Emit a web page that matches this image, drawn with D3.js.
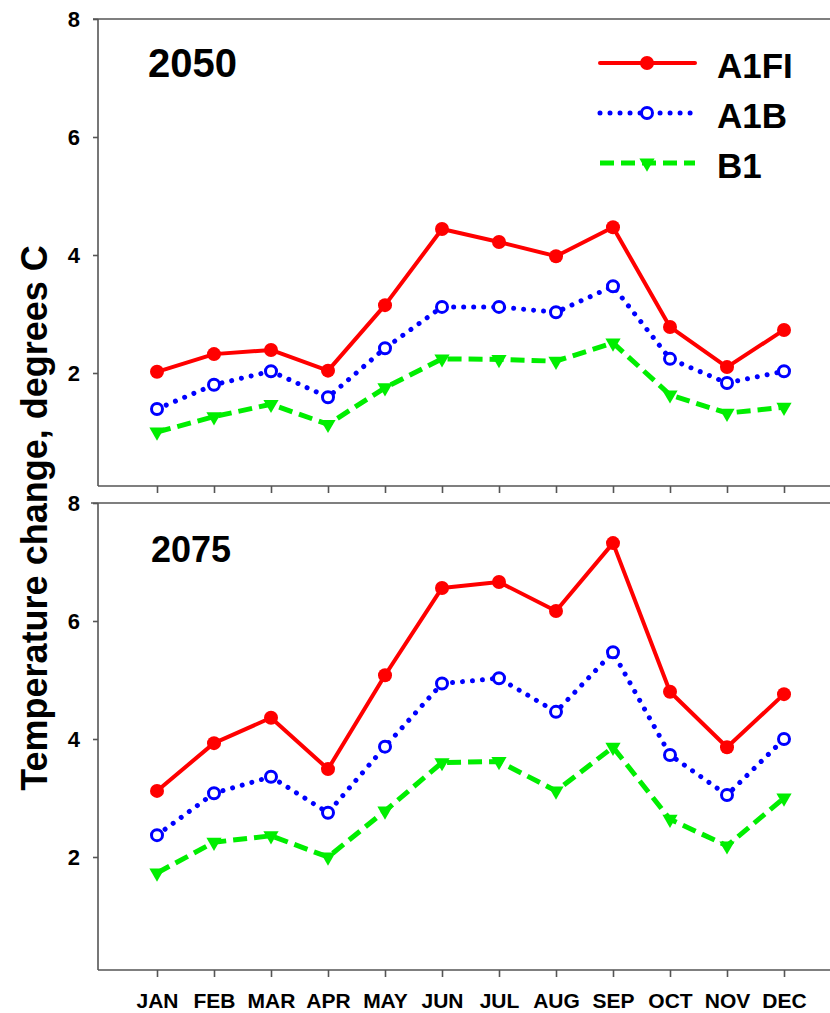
<!DOCTYPE html>
<html>
<head>
<meta charset="utf-8">
<script src="https://cdn.jsdelivr.net/npm/d3@7/dist/d3.min.js"></script>
<style>
  html, body { margin: 0; padding: 0; background: #fff; }
  svg { display: block; }
  text { font-family: "Liberation Sans", Arial, sans-serif; font-weight: bold; fill: #000; }
</style>
</head>
<body>
<svg id="chart" width="830" height="1013"></svg>
<script>
const months = ["JAN","FEB","MAR","APR","MAY","JUN","JUL","AUG","SEP","OCT","NOV","DEC"];
const yTicks = [2, 4, 6, 8];
const seriesNames = ["A1FI", "A1B", "B1"];

// 2050 panel
const a1fi2050 = [2.02, 2.32, 2.39, 2.04, 3.15, 4.44, 4.22, 3.98, 4.47, 2.78, 2.10, 2.73];
const a1b2050  = [1.39, 1.80, 2.03, 1.59, 2.42, 3.12, 3.12, 3.03, 3.47, 2.24, 1.83, 2.03];
const b12050   = [1.00, 1.26, 1.47, 1.13, 1.75, 2.24, 2.23, 2.20, 2.51, 1.63, 1.32, 1.42];

// 2075 panel
const a1fi2075 = [3.12, 3.93, 4.36, 3.49, 5.08, 6.56, 6.66, 6.17, 7.32, 4.80, 3.86, 4.76];
const a1b2075  = [2.37, 3.08, 3.36, 2.75, 3.87, 4.94, 5.03, 4.46, 5.47, 3.73, 3.05, 4.00];
const b12075   = [1.73, 2.25, 2.36, 2.00, 2.78, 3.60, 3.62, 3.12, 3.86, 2.64, 2.19, 3.00];

const svg = d3.select("#chart");
const W = 830;

const colors = { A1FI: "#ff0000", A1B: "#0000ff", B1: "#00ee00" };

const x = d3.scalePoint().domain(months).range([157, 784]);

const panels = [
  { label: "2050", labelSize: 40, labelX: 148, labelY: 77, top: 19, bottom: 486, yRange: [491, 19], leftStart: 93, showXLabels: false,
    data: { A1FI: a1fi2050, A1B: a1b2050, B1: b12050 } },
  { label: "2075", labelSize: 36, labelX: 151, labelY: 562, top: 503, bottom: 970, yRange: [975, 503], leftStart: 91, showXLabels: true,
    data: { A1FI: a1fi2075, A1B: a1b2075, B1: b12075 } }
];

const axisColor = "#555";
const axisX = 98;

function styleFor(name) {
  if (name === "A1FI") return { width: 4, dash: null, cap: "round" };
  if (name === "A1B") return { width: 5, dash: "0.01,10", cap: "round" };
  return { width: 5, dash: "14,7", cap: "butt" };
}

function drawMarker(g, name, cx, cy) {
  if (name === "A1FI") {
    g.append("circle").attr("cx", cx).attr("cy", cy).attr("r", 7).attr("fill", colors.A1FI);
  } else if (name === "A1B") {
    g.append("circle").attr("cx", cx).attr("cy", cy).attr("r", 5.5)
      .attr("fill", "#fff").attr("stroke", colors.A1B).attr("stroke-width", 3);
  } else {
    g.append("path").attr("d", d3.symbol().type(d3.symbolTriangle).size(100)())
      .attr("transform", `translate(${cx},${cy}) rotate(180)`).attr("fill", colors.B1);
  }
}

panels.forEach(p => {
  const y = d3.scaleLinear().domain([0, 8]).range(p.yRange);
  const g = svg.append("g");

  // frame lines
  g.append("line").attr("x1", p.leftStart).attr("x2", W + 10).attr("y1", p.top).attr("y2", p.top)
    .attr("stroke", axisColor).attr("stroke-width", 1.6);
  g.append("line").attr("x1", axisX).attr("x2", axisX).attr("y1", p.top).attr("y2", p.bottom)
    .attr("stroke", axisColor).attr("stroke-width", 1.6);
  g.append("line").attr("x1", axisX).attr("x2", W + 10).attr("y1", p.bottom).attr("y2", p.bottom)
    .attr("stroke", axisColor).attr("stroke-width", 1.6);

  // y axis ticks & labels
  const yAxis = d3.axisLeft(y).tickValues(yTicks).tickSize(5).tickPadding(13).tickFormat(d3.format("d"));
  const ya = g.append("g").attr("transform", `translate(${axisX},0)`).call(yAxis);
  ya.select(".domain").remove();
  ya.selectAll(".tick line").attr("stroke", axisColor).attr("stroke-width", 1.6);
  ya.selectAll(".tick text").style("font-size", "22px").style("font-weight", "bold")
    .style("font-family", '"Liberation Sans", Arial, sans-serif').attr("fill", "#000");

  // x axis ticks
  const xAxis = d3.axisBottom(x).tickSize(7).tickPadding(16);
  if (!p.showXLabels) xAxis.tickFormat(() => "");
  const xa = g.append("g").attr("transform", `translate(0,${p.bottom})`).call(xAxis);
  xa.select(".domain").remove();
  xa.selectAll(".tick line").attr("stroke", axisColor).attr("stroke-width", 1.6);
  xa.selectAll(".tick text").style("font-size", "21px").style("font-weight", "bold")
    .style("font-family", '"Liberation Sans", Arial, sans-serif').attr("fill", "#000");

  // panel label
  g.append("text").attr("x", p.labelX).attr("y", p.labelY).style("font-size", p.labelSize + "px").text(p.label);

  // series lines and markers
  seriesNames.forEach(name => {
    const vals = p.data[name];
    const st = styleFor(name);
    const line = d3.line().x((d, i) => x(months[i])).y(d => y(d));
    const path = g.append("path").datum(vals).attr("d", line)
      .attr("fill", "none").attr("stroke", colors[name]).attr("stroke-width", st.width)
      .attr("stroke-linecap", st.cap).attr("stroke-linejoin", "round");
    if (st.dash) path.attr("stroke-dasharray", st.dash);
    const mg = g.append("g");
    vals.forEach((v, i) => drawMarker(mg, name, x(months[i]), y(v)));
  });
});

// legend
const legendRows = [
  { name: "A1FI", y: 63 },
  { name: "A1B", y: 113 },
  { name: "B1", y: 163 }
];
const lg = svg.append("g");
legendRows.forEach(r => {
  const st = styleFor(r.name);
  const ln = lg.append("line").attr("x1", 600).attr("x2", 695).attr("y1", r.y).attr("y2", r.y)
    .attr("stroke", colors[r.name]).attr("stroke-width", st.width).attr("stroke-linecap", st.cap);
  if (st.dash) ln.attr("stroke-dasharray", st.dash);
  drawMarker(lg, r.name, 647, r.y);
  lg.append("text").attr("x", 717).attr("y", r.y + 15).style("font-size", "35px").text(r.name);
});

// y axis title
svg.append("text")
  .attr("transform", "translate(47,518) rotate(-90)")
  .attr("text-anchor", "middle")
  .style("font-size", "36px")
  .text("Temperature change, degrees C");
</script>
</body>
</html>
